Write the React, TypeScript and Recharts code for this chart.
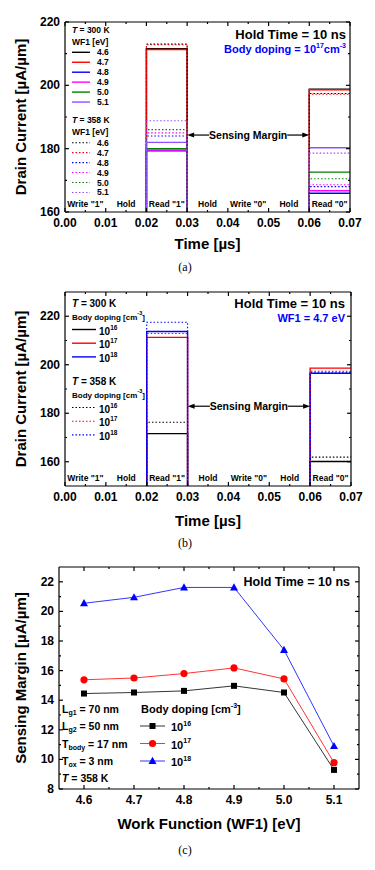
import React from "react";
import { LineChart, Line, XAxis, YAxis, ReferenceLine } from "recharts";

// transient read waveforms: time points and which state each point is in
const times = [0, 0.02, 0.02, 0.03, 0.03, 0.06, 0.06, 0.07];
const phases = ["off", "off", "r1", "r1", "off", "off", "r0", "r0"];
const offCurrent = 0; // below the visible window

const timeTicks = [0, 0.01, 0.02, 0.03, 0.04, 0.05, 0.06, 0.07];
const timeMinor = [0.005, 0.015, 0.025, 0.035, 0.045, 0.055, 0.065];
const phaseNames = ['Write "1"', "Hold", 'Read "1"', "Hold", 'Write "0"', "Hold", 'Read "0"'];

// (a) WF1 sweep, body doping 1e17
const wfLabels = ["4.6", "4.7", "4.8", "4.9", "5.0", "5.1"];
const wfColors = ["#000000", "#ff0000", "#0000ff", "#ff00ff", "#008000", "#9050ff"];
const wfRead1At300 = [211.6, 211.3, 179.3, 179.6, 180.0, 182.0];
const wfRead0At300 = [198.8, 198.6, 165.9, 166.7, 172.6, 180.3];
const wfRead1At358 = [213.0, 212.8, 184.0, 185.0, 186.0, 188.8];
const wfRead0At358 = [197.4, 197.2, 168.0, 168.6, 170.5, 178.6];

// (b) body doping sweep, WF1 = 4.7 eV
const dopingExp = ["16", "17", "18"];
const dopingColors = ["#000000", "#ff0000", "#0000ff"];
const dopRead1At300 = [171.6, 211.3, 213.7];
const dopRead0At300 = [160.1, 198.6, 196.5];
const dopRead1At358 = [176.3, 212.9, 217.5];
const dopRead0At358 = [161.9, 197.3, 196.9];

// (c) sensing margin vs WF1 at 358 K
const wfValues = [4.6, 4.7, 4.8, 4.9, 5.0, 5.1];
const wfMinor = [4.65, 4.75, 4.85, 4.95, 5.05];
const margin16 = [14.45, 14.52, 14.63, 14.97, 14.52, 9.29];
const margin17 = [15.38, 15.5, 15.8, 16.18, 15.44, 9.78];
const margin18 = [20.55, 20.95, 21.62, 21.62, 17.4, 10.9];

const FONT = "'Liberation Sans', Arial, sans-serif";
const frame = { stroke: "#000", strokeWidth: 1.2 };
const txt = { fontFamily: FONT, fontWeight: "bold" as const, fill: "#000" };

type Series = { key: string; r1: number; r0: number; color: string; dotted: boolean };

function makeSeries(r1: number[], r0: number[], colors: string[], dotted: boolean, tag: string): Series[] {
  return r1.map((v, i) => ({ key: `${tag}${i}`, r1: v, r0: r0[i], color: colors[i], dotted }));
}

function buildWave(series: Series[]) {
  return times.map((t, j) => {
    const row: Record<string, number> = { t };
    series.forEach((s) => {
      row[s.key] = phases[j] === "r1" ? s.r1 : phases[j] === "r0" ? s.r0 : offCurrent;
    });
    return row;
  });
}

const seriesA = [
  ...makeSeries(wfRead1At300, wfRead0At300, wfColors, false, "h"),
  ...makeSeries(wfRead1At358, wfRead0At358, wfColors, true, "c"),
];
const seriesB = [
  ...makeSeries(dopRead1At300, dopRead0At300, dopingColors, false, "h"),
  ...makeSeries(dopRead1At358, dopRead0At358, dopingColors, true, "c"),
];
const dataA = buildWave(seriesA);
const dataB = buildWave(seriesB);
const dataC = wfValues.map((wf, i) => ({ wf, d16: margin16[i], d17: margin17[i], d18: margin18[i] }));

const near = (list: number[], v: number) => list.findIndex((m) => Math.abs(m - v) < 1e-9);

type AxisOpts = {
  xKey: string;
  xDomain: [number, number];
  xTicks: number[];
  xMinor: number[];
  xFmt: (v: number) => string;
  yDomain: [number, number];
  yTicks: number[];
  yMinor: number[];
  inner?: string[]; // labels drawn just above the bottom frame at the minor ticks
};

// ticks point inwards on all four sides; majors 4px, minors 2px
function frameAxes(o: AxisOpts) {
  const xAll = [...o.xTicks, ...o.xMinor];
  const yAll = [...o.yTicks, ...o.yMinor];
  const bottomTick = (p: any) => {
    const v = p.payload.value;
    const major = near(o.xTicks, v) >= 0;
    const mi = near(o.xMinor, v);
    return (
      <g key={`bt${p.index}`}>
        <line x1={p.x} x2={p.x} y1={p.y} y2={p.y - (major ? 4 : 2)} {...frame} />
        {major && (
          <text x={p.x} y={p.y + 10.5} textAnchor="middle" dominantBaseline="central" fontSize={12} {...txt}>
            {o.xFmt(v)}
          </text>
        )}
        {!major && o.inner && mi >= 0 && (
          <text x={p.x} y={p.y - 8} textAnchor="middle" dominantBaseline="central" fontSize={8.5} {...txt}>
            {o.inner[mi]}
          </text>
        )}
      </g>
    );
  };
  const topTick = (p: any) => {
    const major = near(o.xTicks, p.payload.value) >= 0;
    return <line key={`tt${p.index}`} x1={p.x} x2={p.x} y1={p.y} y2={p.y + (major ? 4 : 2)} {...frame} />;
  };
  const leftTick = (p: any) => {
    const v = p.payload.value;
    const major = near(o.yTicks, v) >= 0;
    return (
      <g key={`lt${p.index}`}>
        <line x1={p.x} x2={p.x + (major ? 4 : 2)} y1={p.y} y2={p.y} {...frame} />
        {major && (
          <text x={p.x - 5} y={p.y} textAnchor="end" dominantBaseline="central" fontSize={12} {...txt}>{v}</text>
        )}
      </g>
    );
  };
  const rightTick = (p: any) => {
    const major = near(o.yTicks, p.payload.value) >= 0;
    return <line key={`rt${p.index}`} x1={p.x} x2={p.x - (major ? 4 : 2)} y1={p.y} y2={p.y} {...frame} />;
  };
  const common = { type: "number" as const, allowDataOverflow: true, interval: 0 as const, tickSize: 0,
    tickMargin: 0, tickLine: false, axisLine: frame };
  return [
    <XAxis key="xb" xAxisId="b" dataKey={o.xKey} domain={o.xDomain} ticks={xAll} height={1} tick={bottomTick} {...common} />,
    <XAxis key="xt" xAxisId="t" dataKey={o.xKey} orientation="top" domain={o.xDomain} ticks={xAll} height={1}
      tick={topTick} {...common} />,
    <YAxis key="yl" yAxisId="l" domain={o.yDomain} ticks={yAll} width={1} tick={leftTick} {...common} />,
    <YAxis key="yr" yAxisId="r" orientation="right" domain={o.yDomain} ticks={yAll} width={1} tick={rightTick} {...common} />,
  ];
}

const waveAxes = {
  xKey: "t",
  xDomain: [0, 0.07] as [number, number],
  xTicks: timeTicks,
  xMinor: timeMinor,
  xFmt: (v: number) => v.toFixed(2),
  inner: phaseNames,
};

function MarginArrow(p: any) {
  const { x1, y1, x2 } = p;
  const mid = (x1 + x2) / 2;
  const half = 39;
  return (
    <g>
      <line x1={x1 + 5} y1={y1} x2={mid - half} y2={y1} stroke="#000" strokeWidth={1.2} />
      <line x1={mid + half} y1={y1} x2={x2 - 5} y2={y1} stroke="#000" strokeWidth={1.2} />
      <polygon points={`${x1},${y1} ${x1 + 7},${y1 - 2.5} ${x1 + 7},${y1 + 2.5}`} fill="#000" />
      <polygon points={`${x2},${y1} ${x2 - 7},${y1 - 2.5} ${x2 - 7},${y1 + 2.5}`} fill="#000" />
      <text x={mid} y={y1} textAnchor="middle" dominantBaseline="central" fontSize={10.5} {...txt}>
        Sensing Margin
      </text>
    </g>
  );
}

// alternate series between the bottom/left and top/right axes (same domains) so every axis has data
function waveLines(series: Series[]) {
  return series.map((s, i) => (
    <Line key={s.key} xAxisId={i % 2 ? "t" : "b"} yAxisId={i % 2 ? "r" : "l"} dataKey={s.key} type="linear"
      stroke={s.color} strokeWidth={s.dotted ? 1.1 : 1.4} strokeDasharray={s.dotted ? "1.5 2" : undefined}
      dot={false} activeDot={false} isAnimationActive={false} />
  ));
}

// "base^exp tail" as one text run
function supText(base: string, exp: string, tail: string, size: number, supSize: number) {
  const up = size * 0.4;
  return [
    <tspan key="b" fontSize={size}>{base}</tspan>,
    <tspan key="e" fontSize={supSize} dy={-up}>{exp}</tspan>,
    tail ? <tspan key="t" fontSize={size} dy={up}>{tail}</tspan> : null,
  ];
}

function AxisTitles({ xTitle, yTitle, cx, xy, cy, caption, capY }: any) {
  return (
    <g>
      <text x={cx} y={xy} textAnchor="middle" dominantBaseline="central" fontSize={15} {...txt}>{xTitle}</text>
      <text x={20} y={cy} transform={`rotate(-90, 20, ${cy})`} textAnchor="middle" dominantBaseline="central"
        fontSize={15} {...txt}>{yTitle}</text>
      <text x={185} y={capY} textAnchor="middle" dominantBaseline="central" fontSize={12}
        fontFamily="'Liberation Serif', 'Times New Roman', serif" fill="#000">{caption}</text>
    </g>
  );
}

function LegendA() {
  const block = (title: string, top: number, rowsStart: number, dotted: boolean) => (
    <g key={title}>
      <text x={72} y={top} dominantBaseline="central" fontSize={8.5} {...txt}>
        <tspan fontStyle="italic">T</tspan>
        <tspan>{` = ${title}`}</tspan>
      </text>
      <text x={72} y={top + 12} dominantBaseline="central" fontSize={8.5} {...txt}>WF1 [eV]</text>
      {wfLabels.map((lab, i) => {
        const y = rowsStart + i * 9.95;
        return (
          <g key={lab}>
            <line x1={72} x2={90} y1={y} y2={y} stroke={wfColors[i]} strokeWidth={dotted ? 1.1 : 1.4}
              strokeDasharray={dotted ? "1.5 2" : undefined} />
            <text x={97} y={y} dominantBaseline="central" fontSize={8.5} {...txt}>{lab}</text>
          </g>
        );
      })}
    </g>
  );
  return (
    <g>
      {block("300 K", 30, 52.3, false)}
      {block("358 K", 120, 142.7, true)}
      <text x={346} y={34} textAnchor="end" dominantBaseline="central" fontSize={13} {...txt}>Hold Time = 10 ns</text>
      <text x={346} y={49} textAnchor="end" dominantBaseline="central" {...txt} fill="#0000ff">
        {supText("Body doping = 10", "17", "cm", 11, 7)}
        <tspan fontSize={7} dy={-4.4}>-3</tspan>
      </text>
    </g>
  );
}

function LegendB() {
  const block = (title: string, top: number, dotted: boolean) => (
    <g key={title}>
      <text x={72} y={top} dominantBaseline="central" fontSize={10} {...txt}>
        <tspan fontStyle="italic">T</tspan>
        <tspan>{` = ${title}`}</tspan>
      </text>
      <text x={72} y={top + 13.5} dominantBaseline="central" {...txt}>
        {supText("Body doping [cm", "-3", "]", 8, 5.5)}
      </text>
      {dopingExp.map((e, i) => {
        const y = top + 26.5 + i * 13.7;
        return (
          <g key={e}>
            <line x1={72} x2={96} y1={y} y2={y} stroke={dopingColors[i]} strokeWidth={dotted ? 1.1 : 1.4}
              strokeDasharray={dotted ? "1.5 2" : undefined} />
            <text x={99} y={y + 1} dominantBaseline="central" {...txt}>
              {supText("10", e, "", 10, 6.5)}
            </text>
          </g>
        );
      })}
    </g>
  );
  return (
    <g>
      {block("300 K", 23, false)}
      {block("358 K", 101, true)}
      <text x={345} y={23} textAnchor="end" dominantBaseline="central" fontSize={13} {...txt}>Hold Time = 10 ns</text>
      <text x={345} y={38} textAnchor="end" dominantBaseline="central" fontSize={11} {...txt} fill="#0000ff">WF1 = 4.7 eV</text>
    </g>
  );
}

const squareDot = (p: any) => (
  <rect key={`s${p.index}`} x={p.cx - 3} y={p.cy - 3} width={6} height={6} fill="#000" />
);
const circleDot = (p: any) => <circle key={`c${p.index}`} cx={p.cx} cy={p.cy} r={3.6} fill="#ff0000" />;
const triangleDot = (p: any) => (
  <polygon key={`t${p.index}`} points={`${p.cx},${p.cy - 4.2} ${p.cx - 4},${p.cy + 3} ${p.cx + 4},${p.cy + 3}`}
    fill="#0000ff" />
);

function LegendC() {
  const params: [string, string, string][] = [
    ["L", "g1", " = 70 nm"],
    ["L", "g2", " = 50 nm"],
    ["T", "body", " = 17 nm"],
    ["T", "ox", " = 3 nm"],
  ];
  const rows = [154, 171, 188.5, 206];
  const colors = ["#000000", "#ff0000", "#0000ff"];
  return (
    <g>
      <text x={350} y={27} textAnchor="end" dominantBaseline="central" fontSize={12.5} {...txt}>Hold Time = 10 ns</text>
      {params.map(([a, sub, rest], i) => (
        <text key={sub} x={62} y={rows[i]} dominantBaseline="central" {...txt}>
          <tspan fontSize={10.5}>{a}</tspan>
          <tspan fontSize={7} dy={3}>{sub}</tspan>
          <tspan fontSize={10.5} dy={-3}>{rest}</tspan>
        </text>
      ))}
      <text x={62} y={222.5} dominantBaseline="central" fontSize={10.5} {...txt}>
        <tspan fontStyle="italic">T</tspan>
        <tspan>{" = 358 K"}</tspan>
      </text>
      <text x={141} y={154} dominantBaseline="central" {...txt}>
        {supText("Body doping [cm", "-3", "]", 11, 7)}
      </text>
      {dopingExp.map((e, i) => {
        const y = rows[i + 1];
        const cx = 152.5;
        return (
          <g key={e}>
            <line x1={140} x2={165} y1={y} y2={y} stroke={colors[i]} strokeWidth={0.8} />
            {i === 0 && <rect x={cx - 3} y={y - 3} width={6} height={6} fill="#000" />}
            {i === 1 && <circle cx={cx} cy={y} r={3.6} fill="#ff0000" />}
            {i === 2 && (
              <polygon points={`${cx},${y - 4.2} ${cx - 4},${y + 3} ${cx + 4},${y + 3}`} fill="#0000ff" />
            )}
            <text x={171} y={y + 1} dominantBaseline="central" {...txt}>
              {supText("10", e, "", 11, 7)}
            </text>
          </g>
        );
      })}
    </g>
  );
}

export default function App() {
  return (
    <div style={{ position: "absolute", left: 0, top: 0, width: 375, height: 870, background: "#fff" }}>
      <div style={{ position: "absolute", left: 0, top: 0 }}>
        <LineChart width={375} height={280} data={dataA} margin={{ top: 21, right: 24, bottom: 67, left: 64 }}>
          {frameAxes({ ...waveAxes, yDomain: [160, 220], yTicks: [160, 180, 200, 220], yMinor: [170, 190, 210] })}
          {waveLines(seriesA)}
          <ReferenceLine xAxisId="b" yAxisId="l" ifOverflow="visible"
            segment={[{ x: 0.03, y: 184.3 }, { x: 0.06, y: 184.3 }]} shape={(p: any) => <MarginArrow {...p} />} />
          <LegendA />
          <AxisTitles xTitle="Time [µs]" yTitle="Drain Current [µA/µm]" cx={207.5} xy={243} cy={117}
            caption="(a)" capY={267} />
        </LineChart>
      </div>
      <div style={{ position: "absolute", left: 0, top: 280 }}>
        <LineChart width={375} height={275} data={dataB} margin={{ top: 11, right: 23, bottom: 68, left: 64 }}>
          {frameAxes({ ...waveAxes, yDomain: [150, 230], yTicks: [160, 180, 200, 220], yMinor: [170, 190, 210] })}
          {waveLines(seriesB)}
          <ReferenceLine xAxisId="b" yAxisId="l" ifOverflow="visible"
            segment={[{ x: 0.03, y: 182.9 }, { x: 0.06, y: 182.9 }]} shape={(p: any) => <MarginArrow {...p} />} />
          <LegendB />
          <AxisTitles xTitle="Time [µs]" yTitle="Drain Current [µA/µm]" cx={208} xy={240} cy={109}
            caption="(b)" capY={263} />
        </LineChart>
      </div>
      <div style={{ position: "absolute", left: 0, top: 555 }}>
        <LineChart width={375} height={315} data={dataC} margin={{ top: 11, right: 15, bottom: 80, left: 58 }}>
          {frameAxes({
            xKey: "wf",
            xDomain: [4.55, 5.15],
            xTicks: wfValues,
            xMinor: wfMinor,
            xFmt: (v: number) => v.toFixed(1),
            yDomain: [8, 23],
            yTicks: [8, 10, 12, 14, 16, 18, 20, 22],
            yMinor: [9, 11, 13, 15, 17, 19, 21],
          })}
          <Line xAxisId="b" yAxisId="l" dataKey="d16" type="linear" stroke="#000000" strokeWidth={0.8}
            dot={squareDot} activeDot={false} isAnimationActive={false} />
          <Line xAxisId="t" yAxisId="r" dataKey="d17" type="linear" stroke="#ff0000" strokeWidth={0.8}
            dot={circleDot} activeDot={false} isAnimationActive={false} />
          <Line xAxisId="b" yAxisId="l" dataKey="d18" type="linear" stroke="#0000ff" strokeWidth={0.8}
            dot={triangleDot} activeDot={false} isAnimationActive={false} />
          <LegendC />
          <AxisTitles xTitle="Work Function (WF1) [eV]" yTitle="Sensing Margin [µA/µm]" cx={209} xy={268} cy={123}
            caption="(c)" capY={295} />
        </LineChart>
      </div>
    </div>
  );
}
